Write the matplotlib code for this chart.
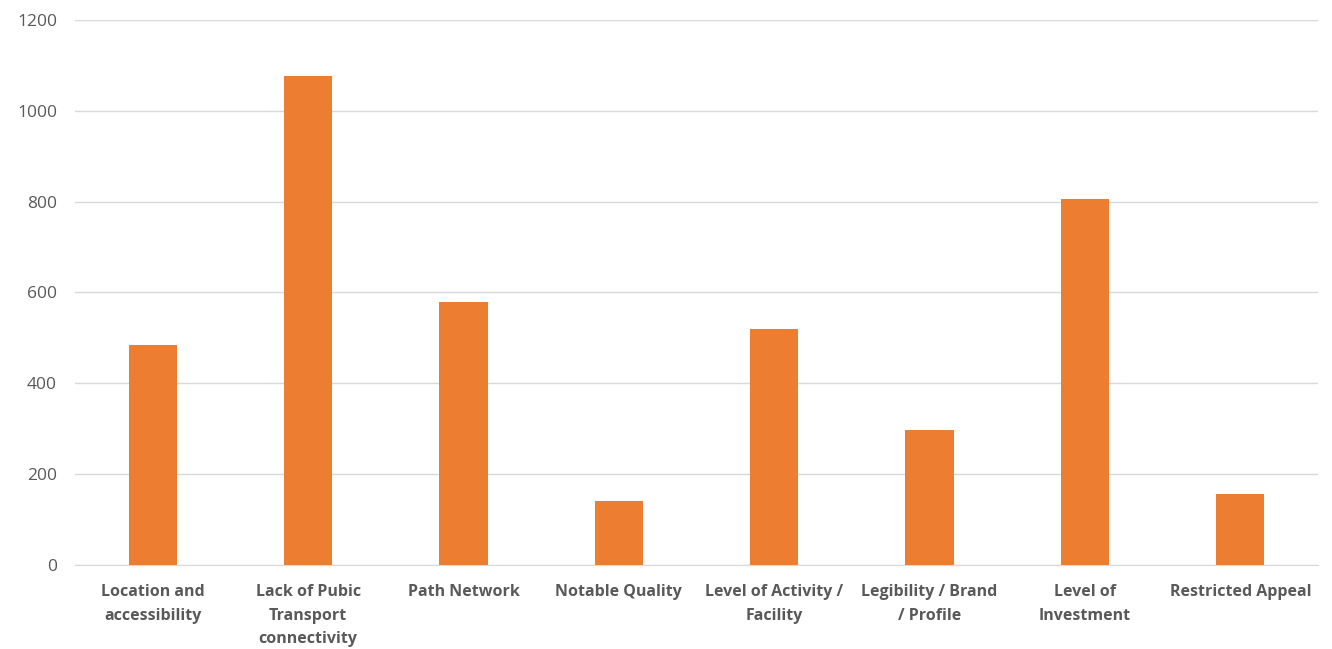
import numpy as np
import matplotlib.pyplot as plt

categories = ["Location and\naccessibility", "Lack of Pubic\nTransport\nconnectivity",
              "Path Network", "Notable Quality", "Level of Activity /\nFacility",
              "Legibility / Brand\n/ Profile", "Level of\nInvestment", "Restricted Appeal"]
values = [484, 1077, 579, 141, 520, 297, 806, 156]
yticks = [0, 200, 400, 600, 800, 1000, 1200]

plt.rcParams['font.family'] = ['Open Sans', 'DejaVu Sans']

fig = plt.figure(figsize=(13.32, 6.49), dpi=100)
ax = fig.add_axes([75/1332, 1 - 565/649, 1243/1332, 545/649])

x = np.arange(len(categories))
ax.bar(x, values, width=0.31, color="#ED7D31", zorder=3)

ax.set_xlim(-0.5, len(categories) - 0.5)
ax.set_ylim(0, 1200)
ax.set_yticks(yticks)
ax.set_xticks(x)
ax.set_xticklabels(categories, fontsize=11.5, fontweight='bold', color="#595959",
                   linespacing=1.65, va='top')
ax.tick_params(axis='y', labelsize=12.5, labelcolor="#595959", length=0, pad=13)
ax.tick_params(axis='x', length=0, pad=13.5)

ax.grid(axis='y', color="#D9D9D9", linewidth=1, zorder=0)
for s in ['top', 'right', 'left']:
    ax.spines[s].set_visible(False)
ax.spines['bottom'].set_color("#D9D9D9")

fig.savefig("out.png", dpi=100)
